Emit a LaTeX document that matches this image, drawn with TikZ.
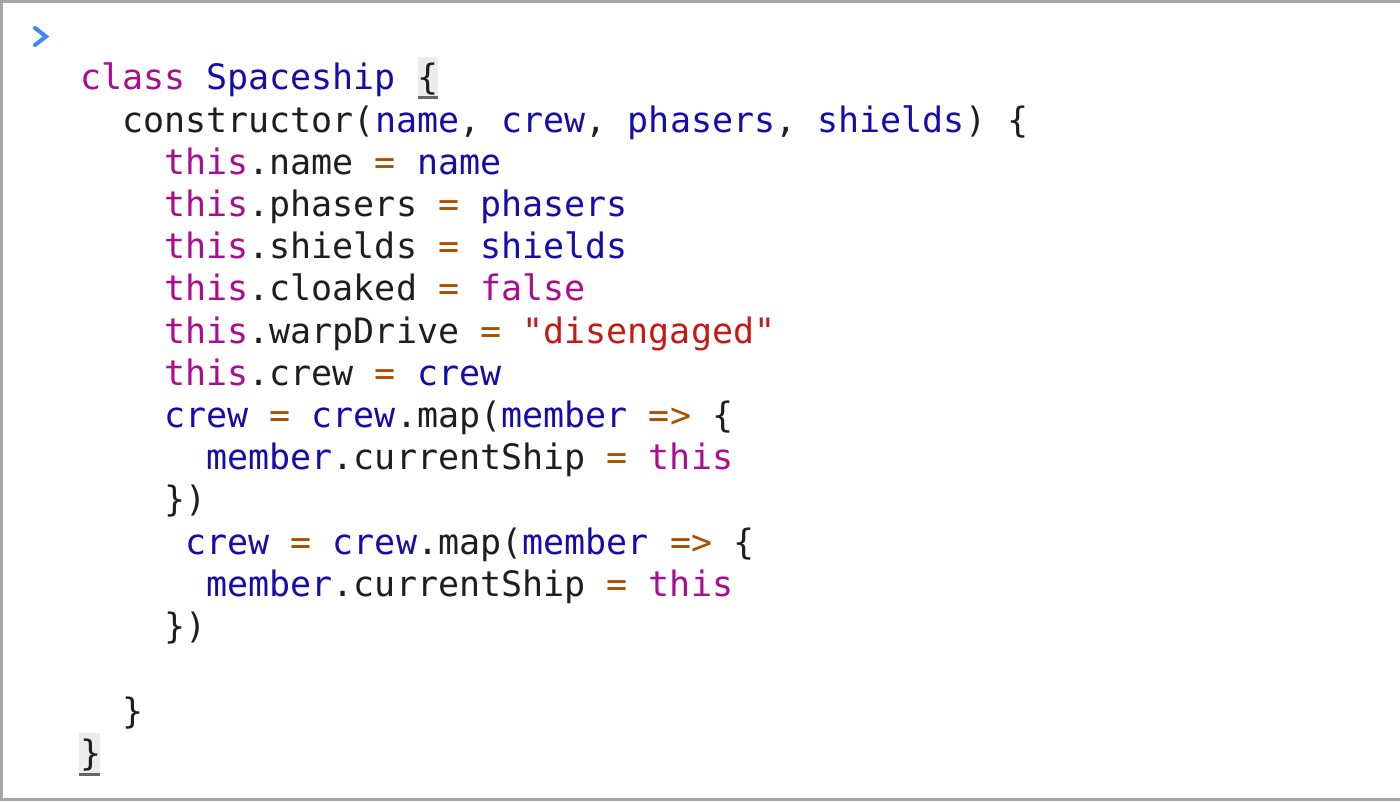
\documentclass[tikz,border=0pt]{standalone}
\usepackage{fontspec}
\setmonofont{DejaVu Sans Mono}
\definecolor{kw}{RGB}{170,13,145}
\definecolor{vr}{RGB}{22,12,170}
\definecolor{op}{RGB}{170,80,0}
\definecolor{st}{RGB}{196,26,22}
\definecolor{tx}{RGB}{30,30,30}
\definecolor{chev}{RGB}{66,133,244}
\newcommand{\K}[1]{\textcolor{kw}{#1}}
\newcommand{\V}[1]{\textcolor{vr}{#1}}
\newcommand{\Op}[1]{\textcolor{op}{#1}}
\newcommand{\Sx}[1]{\textcolor{st}{#1}}
\begin{document}
\begin{tikzpicture}[x=1pt,y=1pt,
  code/.style={anchor=base west,inner sep=0,outer sep=0,font=\fontsize{35}{42}\selectfont\ttfamily,text=tx}]
\useasboundingbox (0,0) rectangle (1400,801);
\fill[white] (0,0) rectangle (1400,801);
\draw[gray!70,line width=3] (1,0) -- (1,801) (0,799.5) -- (1400,799.5) (0,1.5) -- (1400,1.5);
\coordinate (c1) at (35,801-28);
\coordinate (c2) at (46,801-36.5);
\coordinate (c3) at (35,801-45);
\draw[chev,line width=4,line cap=round,line join=miter] (c1) -- (c2) -- (c3);
% highlighted braces
\fill[gray!15] (418,801-57) rectangle (438,801-98);
\draw[gray!80!black,line width=3] (418,801-98) -- (438,801-98);
\fill[gray!15] (79,801-733) rectangle (100,801-773);
\draw[gray!80!black,line width=3] (79,801-774) -- (100,801-774);
\def\cw{21.07}
\def\lh{42.2}
\node[code] (l0) at (80,801-90) {\K{class} \V{Spaceship} \{};
\node[code] (l1) at (80+2*\cw,801-90-\lh) {constructor(\V{name}, \V{crew}, \V{phasers}, \V{shields}) \{};
\node[code] (l2) at (80+4*\cw,801-90-2*\lh) {\K{this}.name \Op{=} \V{name}};
\node[code] (l3) at (80+4*\cw,801-90-3*\lh) {\K{this}.phasers \Op{=} \V{phasers}};
\node[code] (l4) at (80+4*\cw,801-90-4*\lh) {\K{this}.shields \Op{=} \V{shields}};
\node[code] (l5) at (80+4*\cw,801-90-5*\lh) {\K{this}.cloaked \Op{=} \K{false}};
\node[code] (l6) at (80+4*\cw,801-90-6*\lh) {\K{this}.warpDrive \Op{=} \Sx{"disengaged"}};
\node[code] (l7) at (80+4*\cw,801-90-7*\lh) {\K{this}.crew \Op{=} \V{crew}};
\node[code] (l8) at (80+4*\cw,801-90-8*\lh) {\V{crew} \Op{=} \V{crew}.map(\V{member} \Op{=>} \{};
\node[code] (l9) at (80+6*\cw,801-90-9*\lh) {\V{member}.currentShip \Op{=} \K{this}};
\node[code] (l10) at (80+4*\cw,801-90-10*\lh) {\})};
\node[code] (l11) at (80+5*\cw,801-90-11*\lh) {\V{crew} \Op{=} \V{crew}.map(\V{member} \Op{=>} \{};
\node[code] (l12) at (80+6*\cw,801-90-12*\lh) {\V{member}.currentShip \Op{=} \K{this}};
\node[code] (l13) at (80+4*\cw,801-90-13*\lh) {\})};
\node[code] (l15) at (80+2*\cw,801-90-15*\lh) {\}};
\node[code] (l16) at (80,801-90-16*\lh) {\}};
\end{tikzpicture}
\end{document}
